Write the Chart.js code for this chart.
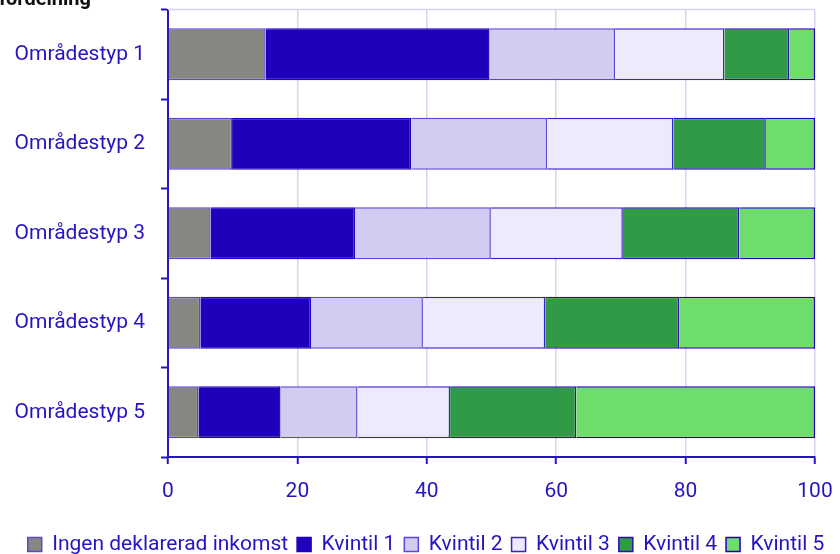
<!DOCTYPE html>
<html>
<head>
<meta charset="utf-8">
<script src="https://cdn.jsdelivr.net/npm/chart.js@4/dist/chart.umd.min.js"></script>
<style>
  html, body { margin: 0; padding: 0; background: #fff; }
  #wrap { width: 840px; height: 554px; }
</style>
</head>
<body>
<div id="wrap"><canvas id="miCanva"></canvas></div>
<script>
const omraden = ['Områdestyp 1', 'Områdestyp 2', 'Områdestyp 3', 'Områdestyp 4', 'Områdestyp 5'];
const serier = ['Ingen deklarerad inkomst', 'Kvintil 1', 'Kvintil 2', 'Kvintil 3', 'Kvintil 4', 'Kvintil 5'];

const ingen   = [15.1, 9.9, 6.6, 5.0, 4.7];
const kvintil1 = [34.6, 27.7, 22.3, 17.1, 12.7];
const kvintil2 = [19.4, 21.0, 21.0, 17.3, 11.9];
const kvintil3 = [16.9, 19.5, 20.4, 18.9, 14.3];
const kvintil4 = [10.0, 14.3, 18.0, 20.7, 19.5];
const kvintil5 = [4.0, 7.6, 11.7, 21.0, 36.9];

const xTicks = [0, 20, 40, 60, 80, 100];

const farger = ['#878782', '#1f00bb', '#d2ccf2', '#ecebfe', '#319a47', '#6fdd6c'];
const kanter = ['#5a48d0', '#2200c0', '#5a48d0', '#3a22c8', '#2a10b0', '#2200c0'];
const bla = '#2614c2';

const värden = [ingen, kvintil1, kvintil2, kvintil3, kvintil4, kvintil5];

// titel (avklippt upptill) + ram upptill
const extra = {
    id: 'extra',
    afterDraw(chart) {
        const ctx = chart.ctx;
        const a = chart.chartArea;
        ctx.save();
        ctx.strokeStyle = '#d6d4ef';
        ctx.lineWidth = 1.5;
        ctx.beginPath();
        ctx.moveTo(a.left, a.top);
        ctx.lineTo(a.right, a.top);
        ctx.stroke();
        ctx.fillStyle = '#111';
        ctx.font = 'bold 20px Roboto';
        ctx.textAlign = 'right';
        ctx.textBaseline = 'alphabetic';
        ctx.fillText('Inkomstfördelning', 91, 5);
        ctx.restore();
    }
};

new Chart(document.getElementById('miCanva'), {
    type: 'bar',
    data: {
        labels: omraden,
        datasets: serier.map((namn, i) => ({
            label: namn,
            data: värden[i],
            backgroundColor: farger[i],
            borderColor: kanter[i],
            borderWidth: 1.5,
            barPercentage: 0.58,
            categoryPercentage: 1
        }))
    },
    options: {
        indexAxis: 'y',
        responsive: true,
        maintainAspectRatio: false,
        animation: false,
        layout: {
            padding: { top: 9.5, right: 0, left: 12, bottom: -11 }
        },
        plugins: {
            legend: {
                position: 'bottom',
                labels: {
                    color: bla,
                    font: { family: 'Roboto', size: 21 },
                    boxWidth: 14,
                    boxHeight: 14,
                    padding: 9
                }
            },
            tooltip: { enabled: false }
        },
        scales: {
            x: {
                stacked: true,
                min: 0,
                max: 100,
                afterBuildTicks: (axis) => { axis.ticks = xTicks.map(v => ({ value: v })); },
                afterFit: (axis) => {
                    axis.height = 68;
                    axis.paddingLeft = 0;
                    axis.paddingRight = 0;
                },
                grid: {
                    color: '#d6d4ef',
                    lineWidth: 1.5,
                    tickColor: bla,
                    tickLength: 7,
                    tickWidth: 2
                },
                border: { color: bla, width: 2 },
                ticks: {
                    color: bla,
                    font: { family: 'Roboto', size: 21 },
                    padding: 15
                }
            },
            y: {
                stacked: true,
                afterFit: (axis) => {
                    axis.width = 156;
                    axis.paddingTop = 0;
                    axis.paddingBottom = 0;
                },
                grid: {
                    drawOnChartArea: false,
                    offset: true,
                    tickColor: bla,
                    tickLength: 7,
                    tickWidth: 2
                },
                border: { color: bla, width: 2 },
                ticks: {
                    color: bla,
                    font: { family: 'Roboto', size: 21 },
                    padding: 16
                }
            },
            hoger: {
                type: 'category',
                position: 'right',
                labels: omraden,
                afterFit: (axis) => {
                    axis.width = 25;
                    axis.paddingTop = 0;
                    axis.paddingBottom = 0;
                },
                grid: { display: false },
                border: { display: false },
                ticks: { display: false }
            }
        }
    },
    plugins: [extra]
});
</script>
</body>
</html>
